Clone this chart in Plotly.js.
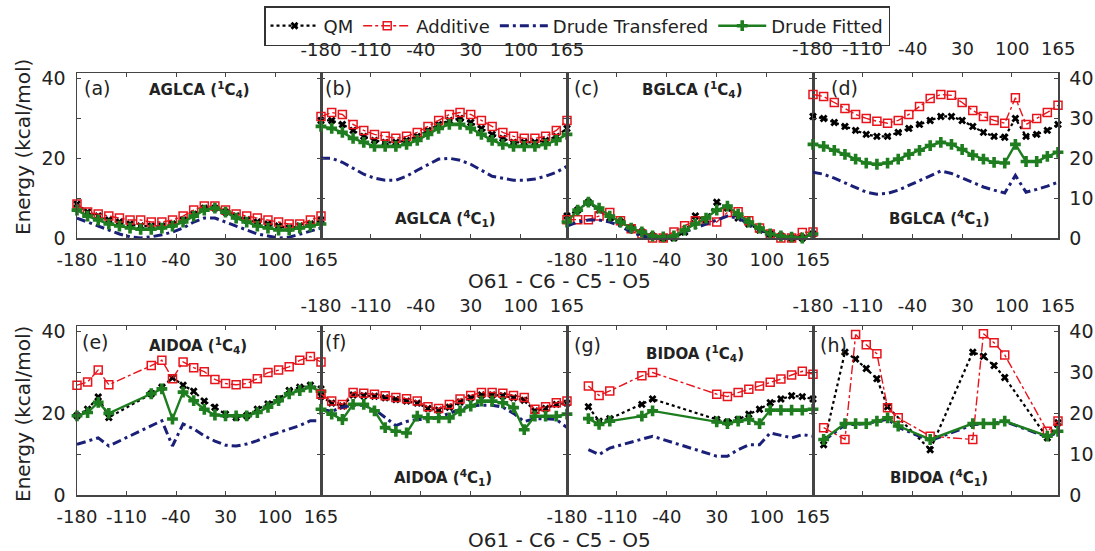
<!DOCTYPE html>
<html>
<head>
<meta charset="utf-8">
<script src="https://cdn.plot.ly/plotly-3.0.1.min.js"></script>
<style>html,body{margin:0;padding:0;background:#fff;}#chart{width:1095px;height:551px;}</style>
</head>
<body>
<div id="chart"></div>
<script>
// ---------- data ----------
const ANG = [-180,-165,-150,-135,-120,-105,-90,-75,-60,-45,-30,-15,0,15,30,45,60,75,90,105,120,135,150,165];
const TICK_VALS = [-180,-110,-40,30,100,165];
const TICK_TEXT = ['-180','-110','-40','30','100','165'];

// (a) AGLCA 1C4
const A_QM  = [8.5,6.5,5.5,4.5,4,3.5,3,3,3,3.5,4.5,6,7.5,7.5,6.5,5.5,4.5,4,3.5,3,2.5,3,3.5,4.5];
const A_ADD = [8.5,6.5,6,5.5,5,4.5,4.5,4,4,4.5,5.5,7,8,8,7,6,5.5,5,4.5,4,3.5,3.5,4.5,5.5];
const A_DT  = [5,4,3,2,1,0.3,0,0.3,0.8,1.5,2.5,4,5,5,4,3,2,1,0.5,0,0.2,1,1.8,2.5];
const A_DF  = [7,5.5,4.5,3.5,3,2.5,2.2,2.2,2.5,3,4,5.5,7,7.5,6.5,5,4,3,2.5,2,2,2.5,3,3.5];
// (b) AGLCA 4C1
const B_QM  = [29.5,29.5,28.5,27,25.5,24.5,24,24,24.5,25.5,27,28.5,29.5,30,29,27.5,26,25,24,24,24,24.5,25.5,27.5];
const B_ADD = [30.5,31.5,31,28.5,27,26,25.5,25,25.5,26.5,28,29.5,31,31.5,31,29.5,28,26.5,25.5,25,25,25.5,27,29.5];
const B_DT  = [20,20,19,17.5,16,15,14.5,14.5,15.5,17,18.5,19.8,20,19.5,18.5,17,15.5,15,14.5,14.5,14.8,15.5,16.5,18];
const B_DF  = [28,27.5,26.5,25,24,23,23,23,23.5,24.5,26,27.5,28.5,28.5,27.5,26,24.5,23.5,23,23,23,23.5,24.5,26];
// (c) BGLCA 1C4
const C_QM  = [5.5,7,9,7,5,4,2.5,1.5,0.5,0,0,1.5,5.5,4.5,9,7.5,5,3.5,2,1,0.5,0,0,1];
const C_ADD = [4.6,4.6,4.6,5.5,6.4,4.3,2.3,1,0,0,1.5,3.1,4.3,4.3,4,6.4,6.6,4.3,2.5,1,0,0,1.4,1.5];
const C_DT  = [3,4,4.5,4.5,4,3,1.5,0.5,0,0,0.5,1.5,2.5,3.5,4.5,5.5,5,3.5,2,1,0.3,0,0.2,1];
const C_DF  = [4,7,9,7.5,5.5,4,2.5,1.5,0.5,0.3,0.5,2,3.5,5,7,8,6,4,2.5,1,0.5,0.2,0,1];
// (d) BGLCA 4C1
const D_QM  = [30.5,30,29,28,27,26,25.5,25.5,26.5,27.5,28.5,29.5,30.5,30.5,29.5,28,26.5,25.5,25.3,30,25.5,26,27,28.5];
const D_ADD = [36,35.5,34,32.5,31,30,29.3,28.8,29.5,31,33,35,36,35.8,34,32,30.5,29.5,28.8,35.2,28.5,30,31.5,33.3];
const D_DT  = [16.5,16,15,13.8,12.5,11.5,11,11.2,12,13.2,14.5,15.8,16.8,16.2,15,13.8,12.8,12,11.3,15.7,11.5,12.2,13,14];
const D_DF  = [23.5,23,22,21,19.8,18.8,18.5,18.8,19.8,21,22,23.2,24,23.5,22.2,20.8,19.8,19,18.8,23.5,19.2,19.2,20.5,21.5];
// (e) AIDOA 1C4
const ANG_E = [-180,-165,-150,-135,-75,-60,-45,-30,-15,0,15,30,45,60,75,90,105,120,135,150,165];
const E_QM  = [19.4,21,24,19,24.8,26.4,28.7,26.9,25.4,23,21.5,19.8,19,19.4,21,22.3,23.5,25.6,26.4,26.9,26];
const E_ADD = [26.9,27.7,30.6,27,31.7,33,28.5,32.6,31.2,30.2,28.3,27.3,27,27.3,28.5,30,30.6,31.4,33,33.9,32.6];
const E_DT  = [12.4,13.2,14,12,17,18.2,12,17.4,16.2,14.5,13.2,12.2,12,12.5,13.3,14.5,15.3,16.1,17,18.2,18.2];
const E_DF  = [19.4,20.2,22.7,20,24.8,26,18.6,25.2,23.1,21,19.6,19.4,19.4,19.4,20.2,21.5,23.1,24.8,25.6,26.4,25.4];
// (f) AIDOA 4C1
const F_QM  = [24.2,22.5,21.8,24.5,24.3,24.2,23.8,23.4,23,22.5,21.2,20.8,21.5,22.8,23.8,24.5,24.5,24.3,23.8,23.2,20.6,21.2,22.2,22.5];
const F_ADD = [24.7,23,22.2,25.1,24.9,24.7,24.3,23.9,23.6,23,21.6,21.2,22.2,23.5,24.4,25.1,25.1,24.9,24.4,23.9,21,21.6,22.6,23];
const F_DT  = [21,20.5,21.5,22,22,21,19,17,18,18.5,18.5,19,20,21,21.8,22,22,21.5,20,18,18.7,18.7,18.5,16.5];
const F_DF  = [21,19.8,18.5,22.2,22.2,20.6,16.5,15.6,15.2,19.3,18.9,18.9,18.9,20.6,21.8,23,23,22.6,21.4,16,19.3,19.3,19.3,19.8];
// (g) BIDOA 1C4
const ANG_G = [-150,-135,-120,-75,-60,30,45,60,75,90,105,120,135,150,165];
const G_QM  = [21.6,18.1,18.7,22.2,23.5,18.5,17.9,18.5,19.8,21,22.6,23.5,24.3,24.1,23.5];
const G_ADD = [26.7,24.4,25.5,29.2,30,24.7,24.1,25.1,25.9,26.7,27.6,28.4,29.4,30.3,29.6];
const G_DT  = [11.1,9.9,11.5,13.6,14.4,9.5,9.5,11.1,12.3,12.3,15.2,14.6,14,14.8,14.4];
const G_DF  = [18.7,17.3,18.1,19.3,20.6,17.9,17.5,18.1,18.5,17.5,20.8,20.8,20.8,20.8,21];
// (h) BIDOA 4C1
const ANG_H    = [-165,-135,-120,-105,-90,-75,-60,-15,45,60,75,90,150,165];
const ANG_H_QM = [-165,-135,-120,-105,-90,-75,-15,45,60,75,90,150,165];
const H_QM  = [12.3,35,33.3,31,28.5,21.6,11.1,35,34,31.7,28.8,14,17.7];
const H_ADD = [16.5,13.6,39.3,36.8,34.6,21.4,18.9,14.4,13.6,39.5,37.3,34.3,15.6,18.1];
const H_DT  = [13.3,17.2,17.3,17.5,18,18.6,16.6,13.3,17.2,17.4,17.6,18,14.2,15.4];
const H_DF  = [13.6,17.5,17.5,17.5,18.1,18.9,16.9,13.6,17.5,17.5,17.5,18.1,14.4,15.6];

const PANELS = [
  {tag:'(a)', name:'AGLCA (<sup>1</sup>C<sub>4</sub>)', qm:[ANG,A_QM], add:[ANG,A_ADD], dt:[ANG,A_DT], df:[ANG,A_DF]},
  {tag:'(b)', name:'AGLCA (<sup>4</sup>C<sub>1</sub>)', qm:[ANG,B_QM], add:[ANG,B_ADD], dt:[ANG,B_DT], df:[ANG,B_DF]},
  {tag:'(c)', name:'BGLCA (<sup>1</sup>C<sub>4</sub>)', qm:[ANG,C_QM], add:[ANG,C_ADD], dt:[ANG,C_DT], df:[ANG,C_DF]},
  {tag:'(d)', name:'BGLCA (<sup>4</sup>C<sub>1</sub>)', qm:[ANG,D_QM], add:[ANG,D_ADD], dt:[ANG,D_DT], df:[ANG,D_DF]},
  {tag:'(e)', name:'AIDOA (<sup>1</sup>C<sub>4</sub>)', qm:[ANG_E,E_QM], add:[ANG_E,E_ADD], dt:[ANG_E,E_DT], df:[ANG_E,E_DF]},
  {tag:'(f)', name:'AIDOA (<sup>4</sup>C<sub>1</sub>)', qm:[ANG,F_QM], add:[ANG,F_ADD], dt:[ANG,F_DT], df:[ANG,F_DF]},
  {tag:'(g)', name:'BIDOA (<sup>1</sup>C<sub>4</sub>)', qm:[ANG_G,G_QM], add:[ANG_G,G_ADD], dt:[ANG_G,G_DT], df:[ANG_G,G_DF]},
  {tag:'(h)', name:'BIDOA (<sup>4</sup>C<sub>1</sub>)', qm:[ANG_H_QM,H_QM], add:[ANG_H,H_ADD], dt:[ANG_H,H_DT], df:[ANG_H,H_DF]}
];

// ---------- layout geometry (pixels) ----------
const W = 1095, H = 551;
const FONT = 'DejaVu Sans, Verdana, sans-serif';
const COLX = [[77,321],[321,567],[567,813],[813,1058]];
const ROWY = [[73,238],[326,495]];
const px = v => v / W;
const py = v => 1 - v / H;

const SERIES = {
  qm:  {name:'QM', mode:'lines+markers', line:{color:'#000000', dash:'dot', width:2.2},
        marker:{symbol:'x', size:7, color:'#000000'}},
  add: {name:'Additive', mode:'lines+markers', line:{color:'#e8141c', dash:'dashdot', width:1.4},
        marker:{symbol:'square-open', size:8, color:'#e8141c', line:{width:1.5, color:'#e8141c'}}},
  dt:  {name:'Drude Transfered', mode:'lines', line:{color:'#1a1f78', dash:'9px,4px,3px,4px', width:3}},
  df:  {name:'Drude Fitted', mode:'lines+markers', line:{color:'#1e7d1e', width:2.4},
        marker:{symbol:'cross', size:9, color:'#1e7d1e'}}
};
const DRAW_ORDER = ['qm','add','dt','df'];

const traces = [];
PANELS.forEach((p, i) => {
  const n = i + 1;
  DRAW_ORDER.forEach(k => {
    const s = SERIES[k];
    const t = {
      x: p[k][0], y: p[k][1], type:'scatter', mode:s.mode, name:s.name,
      line:s.line, showlegend: i === 0, cliponaxis:false,
      xaxis: 'x' + (n === 1 ? '' : n), yaxis: 'y' + (n === 1 ? '' : n)
    };
    if (s.marker) t.marker = s.marker;
    traces.push(t);
  });
});

const layout = {
  width: W, height: H,
  margin: {l:0, r:0, t:0, b:0},
  paper_bgcolor:'#ffffff', plot_bgcolor:'#ffffff',
  font: {family: FONT, color:'#222222', size: 18},
  showlegend: true,
  legend: {
    orientation:'h', x: px(264), y: py(6), xanchor:'left', yanchor:'top',
    bordercolor:'#333333', borderwidth:1.5, bgcolor:'rgba(255,255,255,0)',
    font:{family:FONT, size:18, color:'#222222'}, itemwidth:48
  },
  annotations: []
};

PANELS.forEach((p, i) => {
  const n = i + 1;
  const col = i % 4, row = Math.floor(i / 4);
  const xk = 'xaxis' + (n === 1 ? '' : n), yk = 'yaxis' + (n === 1 ? '' : n);
  const topLabels = (col === 1 || col === 3);
  // panel (d): its top labels sit under the legend, so they are drawn as axis-referenced annotations below
  const labelsAsAnnotations = (i === 3);
  layout[xk] = {
    domain: [px(COLX[col][0]), px(COLX[col][1])],
    anchor: 'y' + (n === 1 ? '' : n),
    range: [-180, 165], tickmode:'array', tickvals: TICK_VALS, ticktext: TICK_TEXT,
    side: topLabels ? 'top' : 'bottom', showticklabels: !labelsAsAnnotations,
    ticks:'inside', ticklen:4, tickcolor:'#444', tickwidth:1,
    showline:true, linecolor:'#444444', linewidth:1.5, mirror:'ticks',
    showgrid:false, zeroline:false,
    ticklabelstandoff: topLabels ? (row === 0 ? 8 : 5) : 5,
    ticklabeloverflow:'allow',
    tickfont:{family:FONT, size:18, color:'#222222'}
  };
  if (labelsAsAnnotations) {
    TICK_VALS.forEach((v, j) => {
      layout.annotations.push({xref:'x' + n, yref:'paper', x:v, y:py(48),
        xanchor:'center', yanchor:'middle', showarrow:false, text:TICK_TEXT[j],
        font:{family:FONT, size:18, color:'#222222'}});
    });
  }
  const yax = {
    domain: [py(ROWY[row][1]), py(ROWY[row][0])],
    anchor: 'x' + (n === 1 ? '' : n),
    range: [0, 41.4],
    side: col === 3 ? 'right' : 'left', showticklabels: (col === 0 || col === 3),
    ticks:'inside', ticklen:4, tickcolor:'#444', tickwidth:1,
    showline:true, linecolor:'#444444', linewidth:1.5, mirror:'ticks',
    showgrid:false, zeroline:false, ticklabelstandoff: 6,
    tickfont:{family:FONT, size:19, color:'#222222'}
  };
  if (col === 0) {
    yax.tickmode = 'linear'; yax.tick0 = 0; yax.dtick = 20;
    yax.minor = {tickmode:'linear', tick0:0, dtick:10, ticks:'inside', ticklen:4, tickcolor:'#444', showgrid:false};
  } else {
    yax.tickmode = 'linear'; yax.tick0 = 0; yax.dtick = 10;
  }
  layout[yk] = yax;
});

// panel tags and names
const TAG_POS  = [[82,88],[323,88],[572,88],[829,88],[80,342],[323,342],[572,345],[818,345]];
const NAME_POS = [[199,90],[445,218],[692,90],[939,218],[198,345],[443,477],[695,353],[939,477]];
PANELS.forEach((p, i) => {
  layout.annotations.push({xref:'paper', yref:'paper', x:px(TAG_POS[i][0]), y:py(TAG_POS[i][1]),
    xanchor:'left', yanchor:'middle', showarrow:false, text:p.tag,
    font:{family:FONT, size:19, color:'#222222'}});
  layout.annotations.push({xref:'paper', yref:'paper', x:px(NAME_POS[i][0]), y:py(NAME_POS[i][1]),
    xanchor:'center', yanchor:'middle', showarrow:false, text:'<b>' + p.name + '</b>',
    font:{family:FONT, size:15, color:'#222222'}});
});
// axis titles
[147, 414].forEach(yy => {
  layout.annotations.push({xref:'paper', yref:'paper', x:px(23), y:py(yy), textangle:-90,
    xanchor:'center', yanchor:'middle', showarrow:false, text:'Energy (kcal/mol)',
    font:{family:FONT, size:20, color:'#222222'}});
});
[281, 540].forEach(yy => {
  layout.annotations.push({xref:'paper', yref:'paper', x:px(559), y:py(yy),
    xanchor:'center', yanchor:'middle', showarrow:false, text:'O61 - C6 - C5 - O5',
    font:{family:FONT, size:20, color:'#222222'}});
});

Plotly.newPlot('chart', traces, layout, {displayModeBar:false, staticPlot:true});
</script>
</body>
</html>
